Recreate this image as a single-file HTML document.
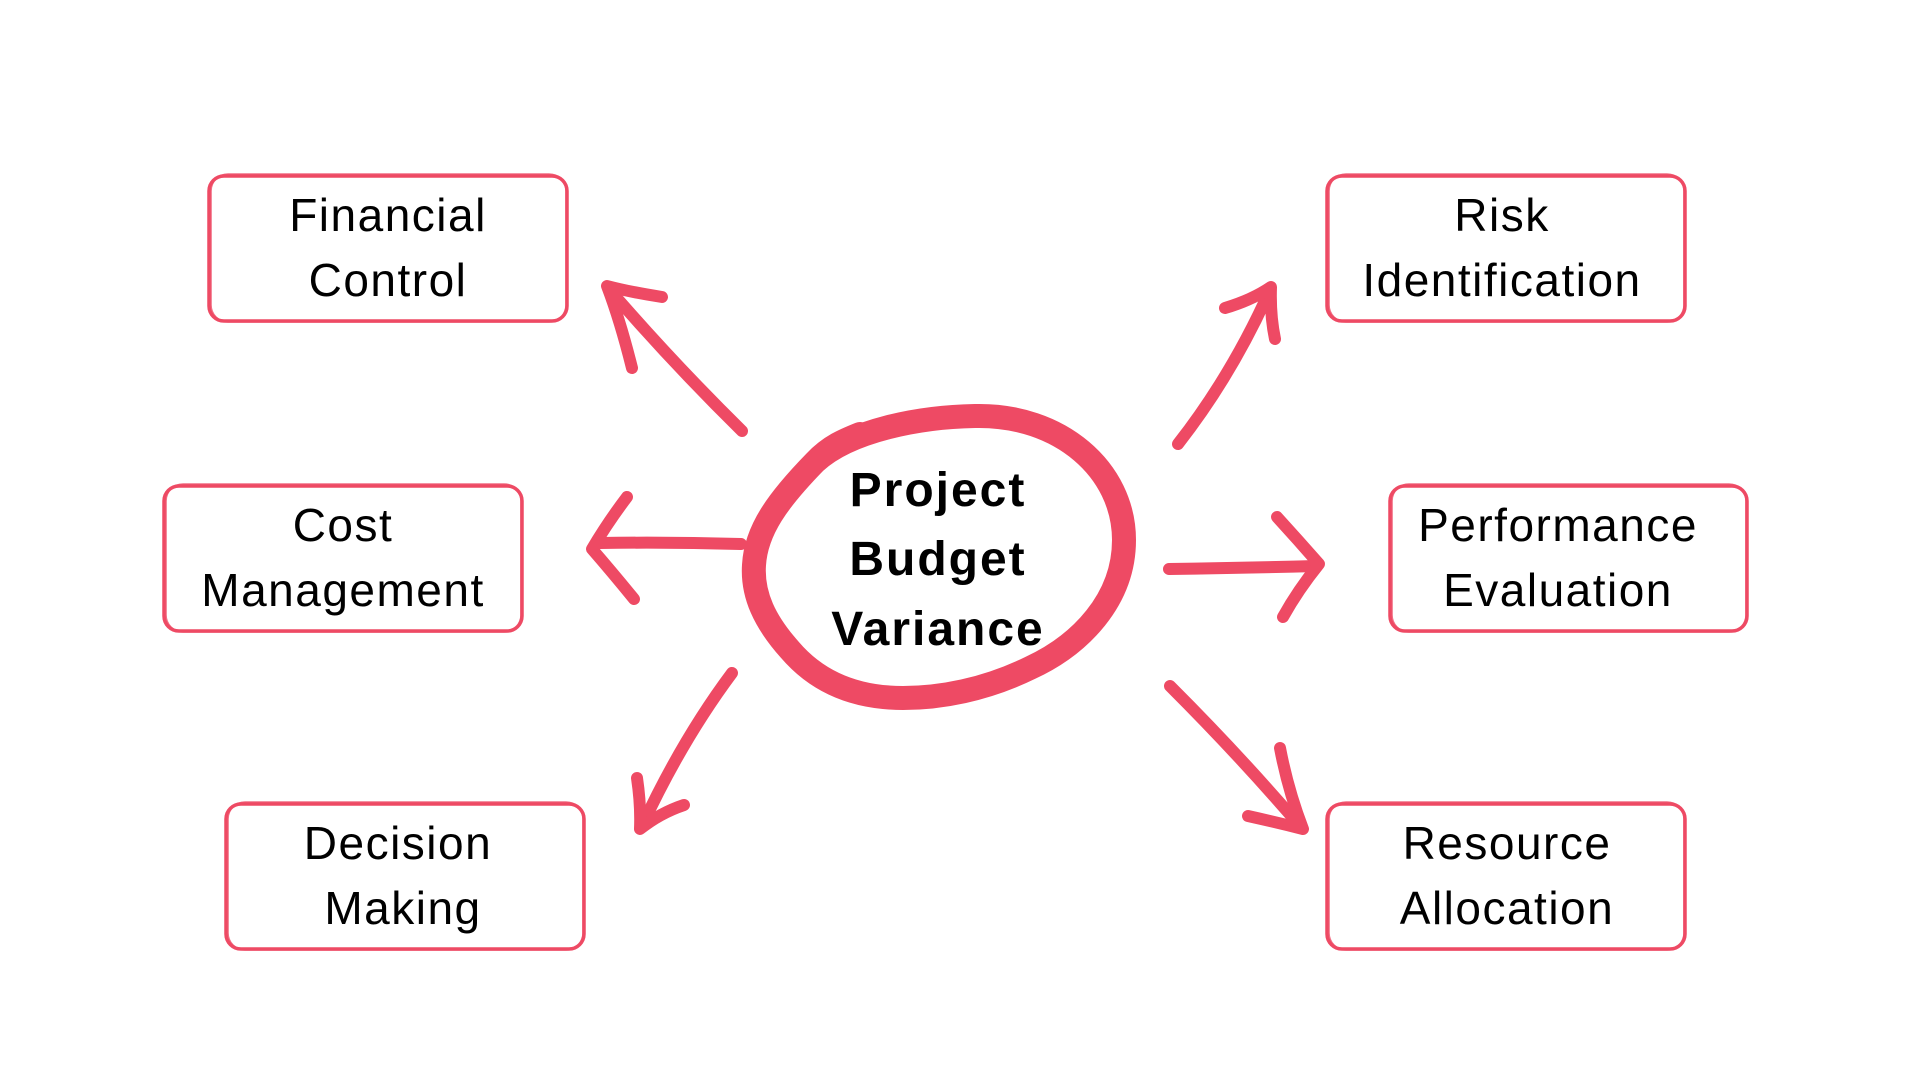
<!DOCTYPE html>
<html>
<head>
<meta charset="utf-8">
<style>
  html, body { margin: 0; padding: 0; background: #ffffff; }
  body { width: 1920px; height: 1080px; overflow: hidden; }
  svg { display: block; }
  .box { fill: none; stroke: #EE4A64; stroke-width: 3.5; stroke-linejoin: round; }
  .box2 { fill: none; stroke: #EE4A64; stroke-width: 1.6; opacity: 0.8; }
  .arr { fill: none; stroke: #EE4A64; stroke-width: 12; stroke-linecap: round; stroke-linejoin: round; }
  .lbl { font-family: "Liberation Sans", sans-serif; font-size: 46px; letter-spacing: 1.5px; fill: #000; text-anchor: middle; }
  .ctr { font-family: "Liberation Sans", sans-serif; font-weight: bold; font-size: 48px; letter-spacing: 2px; fill: #000; text-anchor: middle; }
</style>
</head>
<body>
<svg width="1920" height="1080" viewBox="0 0 1920 1080" xmlns="http://www.w3.org/2000/svg">
  <rect x="0" y="0" width="1920" height="1080" fill="#ffffff"/>

  <!-- Boxes -->
  <rect class="box" x="209" y="176" width="358" height="145" rx="15"/>
  <rect class="box2" x="211" y="174" width="355" height="148" rx="17"/>

  <rect class="box" x="1327" y="176" width="358" height="145" rx="15"/>
  <rect class="box2" x="1329" y="174" width="355" height="148" rx="17"/>

  <rect class="box" x="164" y="486" width="358" height="145" rx="15"/>
  <rect class="box2" x="166" y="484" width="355" height="148" rx="17"/>

  <rect class="box" x="1390" y="486" width="357" height="145" rx="15"/>
  <rect class="box2" x="1392" y="484" width="354" height="148" rx="17"/>

  <rect class="box" x="226" y="804" width="358" height="145" rx="15"/>
  <rect class="box2" x="228" y="802" width="355" height="148" rx="17"/>

  <rect class="box" x="1327" y="804" width="358" height="145" rx="15"/>
  <rect class="box2" x="1329" y="802" width="355" height="148" rx="17"/>

  <!-- Box labels -->
  <text class="lbl" x="388" y="231">Financial</text>
  <text class="lbl" x="388" y="296">Control</text>

  <text class="lbl" x="1502" y="231">Risk</text>
  <text class="lbl" x="1502" y="296">Identification</text>

  <text class="lbl" x="343" y="541">Cost</text>
  <text class="lbl" x="343" y="606">Management</text>

  <text class="lbl" x="1558" y="541">Performance</text>
  <text class="lbl" x="1558" y="606">Evaluation</text>

  <text class="lbl" x="398" y="859">Decision</text>
  <text class="lbl" x="403" y="924">Making</text>

  <text class="lbl" x="1507" y="859">Resource</text>
  <text class="lbl" x="1507" y="924">Allocation</text>

  <!-- Central hand-drawn ellipse -->
  <path d="M 815 462 C 850 430, 920 417, 975 416 C 1060 414, 1124 470, 1124 540 C 1124 600, 1080 645, 1030 668 C 985 690, 940 698, 903 698 C 860 698, 820 685, 790 650 C 765 622, 752 595, 754 565 C 756 530, 778 500, 815 462 C 830 446, 845 440, 860 434"
        fill="none" stroke="#EE4A64" stroke-width="24" stroke-linecap="round" stroke-linejoin="round"/>

  <!-- Center text -->
  <text class="ctr" x="938" y="506">Project</text>
  <text class="ctr" x="938" y="575">Budget</text>
  <text class="ctr" x="938" y="645">Variance</text>

  <!-- Arrow 1: to Financial Control -->
  <path class="arr" d="M 742 431 Q 672 362, 609 289"/>
  <path class="arr" d="M 662 297 Q 630 292, 607 286 Q 620 320, 632 368"/>

  <!-- Arrow 2: to Risk Identification -->
  <path class="arr" d="M 1178 444 Q 1232 375, 1270 290"/>
  <path class="arr" d="M 1225 308 Q 1252 300, 1271 287 Q 1270 315, 1275 339"/>

  <!-- Arrow 3: to Cost Management -->
  <path class="arr" d="M 741 544 Q 670 542, 600 543"/>
  <path class="arr" d="M 627 497 Q 608 522, 592 549 Q 612 572, 634 599"/>

  <!-- Arrow 4: to Performance Evaluation -->
  <path class="arr" d="M 1169 569 Q 1245 568, 1316 566"/>
  <path class="arr" d="M 1277 517 Q 1298 540, 1319 564 Q 1298 590, 1283 617"/>

  <!-- Arrow 5: to Decision Making -->
  <path class="arr" d="M 732 673 Q 682 740, 642 826"/>
  <path class="arr" d="M 637 778 Q 641 805, 640 829 Q 660 813, 684 805"/>

  <!-- Arrow 6: to Resource Allocation -->
  <path class="arr" d="M 1170 686 Q 1240 756, 1300 826"/>
  <path class="arr" d="M 1280 748 Q 1288 790, 1303 829 Q 1275 822, 1248 816"/>
</svg>
</body>
</html>
